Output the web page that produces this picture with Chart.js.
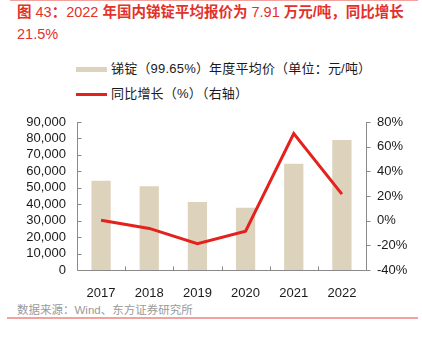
<!DOCTYPE html>
<html>
<head>
<meta charset="utf-8">
<script src="https://cdn.jsdelivr.net/npm/chart.js@4/dist/chart.umd.min.js"></script>
<style>
  body { margin: 0; width: 422px; height: 337px; background: #fff; position: relative; overflow: hidden;
         font-family: "Liberation Sans", Arial, "Noto Sans CJK SC", sans-serif; }
  .rule { position: absolute; background: #f2a19c; }
  .title { position: absolute; left: 17px; top: 1px; font-size: 14.5px; line-height: 22px; color: #e3312b;
           font-family: "Liberation Sans", Arial, "Noto Sans CJK SC", sans-serif; font-weight: bold; white-space: nowrap; }
  .title span { font-weight: normal; }
  .legend-row { position: absolute; left: 76px; height: 20px; font-size: 13px; color: #1a1a1a; white-space: nowrap; }
  .legend-row i { position: absolute; left: 0; width: 31px; }
  .legend-row em { position: absolute; left: 35px; top: 0; font-style: normal; line-height: 20px; letter-spacing: 0.2px; }
  .source { position: absolute; left: 17px; top: 302px; font-size: 11.5px; color: #9a9a9a; line-height: 16px; }
  #wrap { position: absolute; left: 0; top: 100px; width: 422px; height: 200px; }
</style>
</head>
<body>
<div class="rule" style="left:10px;top:0;width:408px;height:1px"></div>
<div class="title">图 <span>43</span>：<span>2022</span> 年国内锑锭平均报价为 <span>7.91</span> 万元/吨，同比增长<br><span>21.5%</span></div>

<div class="legend-row" style="top:59px"><i style="top:8px;height:5px;background:#ddd3bc"></i><em>锑锭（99.65%）年度平均价（单位：元/吨）</em></div>
<div class="legend-row" style="top:84px"><i style="top:9px;height:3px;background:#e4211c"></i><em>同比增长（%）（右轴）</em></div>

<div id="wrap"><canvas id="chart" width="422" height="200"></canvas></div>

<div class="source">数据来源：Wind、东方证券研究所</div>
<div class="rule" style="left:7px;top:317px;width:411px;height:2px"></div>

<script>
const years = ["2017", "2018", "2019", "2020", "2021", "2022"];
const avgPrice = [54300, 50900, 41400, 37900, 64600, 79100];
const yoyGrowth = [0.4, -6.3, -18.6, -8.5, 70.6, 21.5];
const leftTicks = [0, 10000, 20000, 30000, 40000, 50000, 60000, 70000, 80000, 90000];
const rightTicks = [-40, -20, 0, 20, 40, 60, 80];

const axisColor = "#8a8a8a";

Chart.defaults.font.family = "'Liberation Sans', Arial, sans-serif";
Chart.defaults.font.size = 13;
Chart.defaults.color = "#1a1a1a";

// draws axis lines and the small tick marks (inward on left/bottom, outward on right)
const axisTicks = {
  id: "axisTicks",
  afterDraw(chart) {
    const { ctx, chartArea } = chart;
    const y = chart.scales.y, y1 = chart.scales.y1, x = chart.scales.x;
    ctx.save();
    ctx.strokeStyle = axisColor;
    ctx.lineWidth = 1;
    ctx.beginPath();
    const left = Math.round(chartArea.left) + 0.5;
    const right = Math.round(chartArea.right) + 0.5;
    const bottom = Math.round(chartArea.bottom) + 0.5;
    ctx.moveTo(left, Math.round(chartArea.top));
    ctx.lineTo(left, bottom);
    ctx.lineTo(right, bottom);
    ctx.moveTo(right, Math.round(chartArea.top));
    ctx.lineTo(right, bottom);
    y.ticks.forEach((t, i) => {
      const py = Math.round(y.getPixelForTick(i)) + 0.5;
      ctx.moveTo(left, py);
      ctx.lineTo(left + 4, py);
    });
    y1.ticks.forEach((t, i) => {
      const py = Math.round(y1.getPixelForTick(i)) + 0.5;
      ctx.moveTo(right, py);
      ctx.lineTo(right + 4, py);
    });
    for (let i = 1; i < years.length; i++) {
      const px = Math.round((x.getPixelForValue(i - 1) + x.getPixelForValue(i)) / 2) + 0.5;
      ctx.moveTo(px, bottom);
      ctx.lineTo(px, bottom - 4);
    }
    ctx.stroke();
    ctx.restore();
  },
};

new Chart(document.getElementById("chart"), {
  data: {
    labels: years,
    datasets: [
      {
        type: "line",
        label: "同比增长（%）（右轴）",
        data: yoyGrowth,
        yAxisID: "y1",
        borderColor: "#e4211c",
        borderWidth: 3,
        pointRadius: 0,
        tension: 0,
        order: 0,
      },
      {
        type: "bar",
        label: "锑锭（99.65%）年度平均价（单位：元/吨）",
        data: avgPrice,
        yAxisID: "y",
        backgroundColor: "#ddd3bc",
        categoryPercentage: 1,
        barPercentage: 0.4,
        order: 1,
      },
    ],
  },
  options: {
    responsive: false,
    animation: false,
    layout: { padding: { top: 22, left: 0, right: 0, bottom: 0 } },
    plugins: { legend: { display: false }, tooltip: { enabled: false } },
    scales: {
      x: {
        grid: { display: false },
        border: { display: false },
        ticks: { padding: 8, maxRotation: 0, autoSkip: false },
        afterFit: (s) => { s.height = 30; },
      },
      y: {
        position: "left",
        min: 0,
        max: 90000,
        afterBuildTicks: (s) => { s.ticks = leftTicks.map((v) => ({ value: v })); },
        ticks: { padding: 11, autoSkip: false, callback: (v) => v.toLocaleString("en-US") },
        grid: { display: false, drawTicks: false },
        border: { display: false },
        afterFit: (s) => { s.width = 77; },
      },
      y1: {
        position: "right",
        min: -40,
        max: 80,
        afterBuildTicks: (s) => { s.ticks = rightTicks.map((v) => ({ value: v })); },
        ticks: { padding: 11, autoSkip: false, callback: (v) => v + "%" },
        grid: { display: false, drawTicks: false },
        border: { display: false },
        afterFit: (s) => { s.width = 56; },
      },
    },
  },
  plugins: [axisTicks],
});
</script>
</body>
</html>
